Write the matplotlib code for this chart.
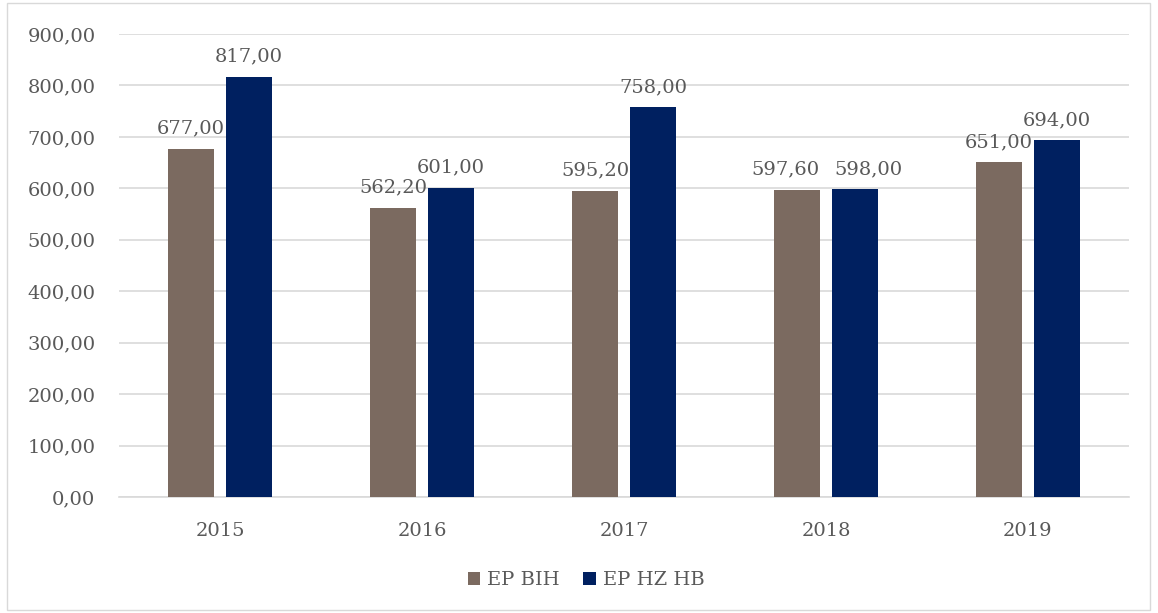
import numpy as np
import matplotlib.pyplot as plt
from matplotlib.patches import Rectangle

years = ['2015', '2016', '2017', '2018', '2019']
ep_bih = [677.00, 562.20, 595.20, 597.60, 651.00]
ep_hzhb = [817.00, 601.00, 758.00, 598.00, 694.00]
series_names = ['EP BIH', 'EP HZ HB']
colors = ['#7B6A60', '#002060']
text_col = '#595959'

plt.rcParams['font.family'] = ['DejaVu Serif']

fig = plt.figure(figsize=(11.58, 6.13), dpi=100)
ax = fig.add_axes([119 / 1158, 1 - 497 / 613, 1010 / 1158, 463 / 613])

x = np.arange(len(years))
w = 0.223
off = 0.1436
b1 = ax.bar(x - off, ep_bih, w, color=colors[0], label=series_names[0], zorder=3)
b2 = ax.bar(x + off, ep_hzhb, w, color=colors[1], label=series_names[1], zorder=3)

def fmt(v):
    return '{:.2f}'.format(v).replace('.', ',')

# labels that sit at almost the same height get pushed apart, like Excel does
for i in range(len(years)):
    a, b = ep_bih[i], ep_hzhb[i]
    close = abs(a - b) < 25
    for r, v, dx in ((b1[i], a, -8 if close else 0), (b2[i], b, 10 if close else 0)):
        ax.annotate(fmt(v), (r.get_x() + r.get_width() / 2, v), xytext=(dx, 8),
                    textcoords='offset points', ha='center', va='bottom',
                    fontsize=14, color=text_col, zorder=4)

ax.set_xlim(-0.5, len(years) - 0.5)
ax.set_ylim(0, 900)
ax.set_yticks(np.arange(0, 901, 100))
ax.set_yticklabels([fmt(v) for v in np.arange(0, 901, 100)])
ax.set_xticks(x)
ax.set_xticklabels(years)
ax.tick_params(axis='both', length=0, labelsize=14, labelcolor=text_col)
ax.tick_params(axis='y', pad=17)
ax.tick_params(axis='x', pad=18)
ax.yaxis.grid(True, color='#D9D9D9', linewidth=1.2, zorder=0)
for s in ('top', 'right', 'left'):
    ax.spines[s].set_visible(False)
ax.spines['bottom'].set_color('#D9D9D9')
ax.spines['bottom'].set_linewidth(1.2)

leg = fig.legend(loc='center', bbox_to_anchor=(586 / 1158, 1 - 580 / 613), ncol=2,
                 frameon=False, fontsize=14, handlelength=0.65, handleheight=0.65,
                 handletextpad=0.35, columnspacing=1.2)
for t in leg.get_texts():
    t.set_color(text_col)

fig.patches.append(Rectangle((7 / 1158, 3 / 613), 1143 / 1158, 607 / 613,
                             transform=fig.transFigure, fill=False,
                             edgecolor='#D9D9D9', linewidth=1))

fig.savefig('out.png', dpi=100)
